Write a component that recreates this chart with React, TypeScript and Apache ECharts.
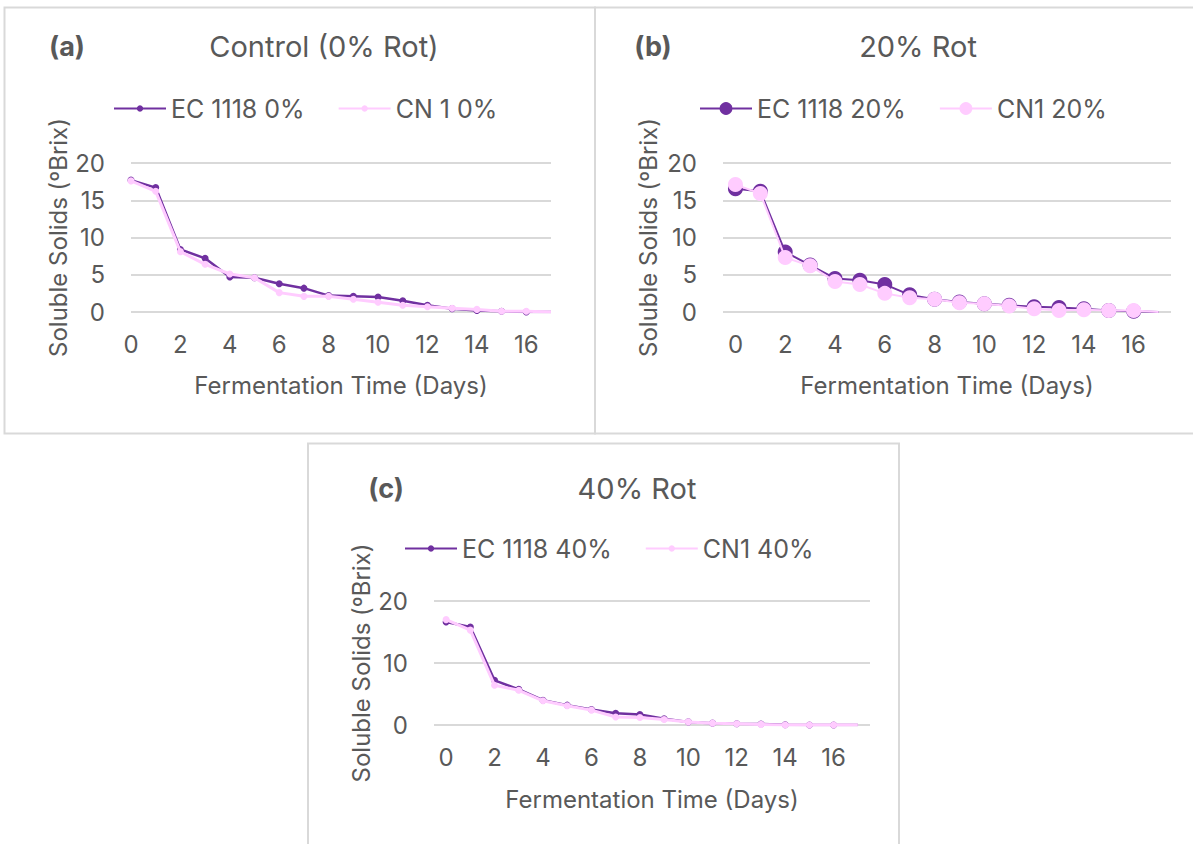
import React, { useEffect, useRef } from "react";
import * as echarts from "echarts";

const days = ["0","1","2","3","4","5","6","7","8","9","10","11","12","13","14","15","16","17"];
const yTicksAB = [0, 5, 10, 15, 20];
const yTicksC = [0, 10, 20];

const ecA = [17.7, 16.7, 8.4, 7.2, 4.7, 4.6, 3.8, 3.2, 2.2, 2.1, 2.0, 1.5, 0.9, 0.45, 0.2, 0.1, 0.0, 0.0];
const cnA = [17.6, 16.2, 8.1, 6.4, 5.1, 4.6, 2.6, 2.1, 2.1, 1.7, 1.3, 0.9, 0.7, 0.5, 0.35, 0.1, 0.1, 0.0];
const ecB = [16.55, 16.2, 8.05, 6.3, 4.5, 4.25, 3.7, 2.3, 1.7, 1.35, 1.1, 0.9, 0.7, 0.6, 0.45, 0.2, 0.1, 0.0];
const cnB = [17.1, 15.9, 7.3, 6.2, 4.1, 3.7, 2.5, 1.9, 1.7, 1.25, 1.1, 0.8, 0.45, 0.2, 0.3, 0.2, 0.2, 0.0];
const ecC = [16.6, 15.8, 7.2, 5.75, 4.0, 3.2, 2.5, 1.9, 1.7, 1.0, 0.5, 0.3, 0.2, 0.15, 0.05, 0.0, 0.0, 0.0];
const cnC = [17.0, 15.3, 6.4, 5.6, 3.9, 3.1, 2.4, 1.3, 1.2, 0.9, 0.5, 0.3, 0.2, 0.1, 0.0, 0.0, 0.0, 0.0];

const DARK = "#7030A0";
const PINK = "#FFCCFF";
const TXT = "#595959";
const FONT = "Inter, 'Noto Sans', sans-serif";

function pts(vals: number[]) {
  return vals.map((v, i) => (i === vals.length - 1 ? { value: v, symbol: "none" } : v));
}

export default function App() {
  const ref = useRef<HTMLDivElement>(null);
  useEffect(() => {
    if (!ref.current) return;
    const chart = echarts.init(ref.current, null, { renderer: "svg" });

    const grids = [
      { left: 131, top: 163, width: 420, height: 149 },
      { left: 723, top: 163, width: 448, height: 149 },
      { left: 434, top: 601, width: 436, height: 124 },
    ];
    const boundary = [false, true, true];
    const yMax = [yTicksAB[yTicksAB.length - 1], yTicksAB[yTicksAB.length - 1], yTicksC[yTicksC.length - 1]];
    const yInt = [yTicksAB[1] - yTicksAB[0], yTicksAB[1] - yTicksAB[0], yTicksC[1] - yTicksC[0]];
    const xNameGap = [61, 61, 62];
    const yNameGap = [61, 63, 61];

    const xAxis = grids.map((_, i) => ({
      type: "category",
      gridIndex: i,
      data: days,
      boundaryGap: boundary[i],
      axisLine: { show: false },
      axisTick: { show: false },
      axisLabel: { interval: 1, fontSize: 24, color: TXT, fontFamily: FONT, margin: 20 },
      name: "Fermentation Time (Days)",
      nameLocation: "middle",
      nameGap: xNameGap[i],
      nameTextStyle: { fontSize: 24, color: TXT, fontFamily: FONT },
    }));
    const yAxis = grids.map((_, i) => ({
      type: "value",
      gridIndex: i,
      min: 0,
      max: yMax[i],
      interval: yInt[i],
      axisLine: { show: false },
      axisTick: { show: false },
      splitLine: { lineStyle: { color: "#D9D9D9", width: 2 } },
      axisLabel: { fontSize: 24, color: TXT, fontFamily: FONT, margin: 26 },
      name: "Soluble Solids (ºBrix)",
      nameLocation: "middle",
      nameGap: yNameGap[i],
      nameRotate: 90,
      nameTextStyle: { fontSize: 24, color: TXT, fontFamily: FONT },
    }));

    const mk = (name: string, data: number[], idx: number, color: string, size: number, width: number, z: number) => ({
      type: "line",
      name,
      xAxisIndex: idx,
      yAxisIndex: idx,
      data: pts(data),
      symbol: "circle",
      symbolSize: size,
      showSymbol: true,
      z,
      itemStyle: { color },
      lineStyle: { color, width },
    });

    const series = [
      mk("EC 1118 0%", ecA, 0, DARK, 7, 2.5, 2),
      mk("CN 1 0%", cnA, 0, PINK, 7, 3, 3),
      mk("EC 1118 20%", ecB, 1, DARK, 15, 2, 2),
      mk("CN1 20%", cnB, 1, PINK, 15, 2, 3),
      mk("EC 1118 40%", ecC, 2, DARK, 7, 2.5, 2),
      mk("CN1 40%", cnC, 2, PINK, 7, 3, 3),
    ];

    const legendBase = {
      orient: "horizontal",
      itemGap: 33,
      itemWidth: 52,
      textStyle: { fontSize: 25, color: TXT, fontFamily: FONT },
      selectedMode: false,
    };

    const titleStyle = { fontSize: 29, color: TXT, fontFamily: FONT, fontWeight: "normal" };
    const tagStyle = { fontSize: 27, color: TXT, fontFamily: FONT, fontWeight: "bold" };

    chart.setOption({
      animation: false,
      backgroundColor: "#FFFFFF",
      grid: grids,
      xAxis,
      yAxis,
      series,
      title: [
        { text: "(a)", left: 62, top: 28, textAlign: "center", textStyle: tagStyle },
        { text: "Control (0% Rot)", left: 319, top: 27, textAlign: "center", textStyle: titleStyle },
        { text: "(b)", left: 648, top: 28, textAlign: "center", textStyle: tagStyle },
        { text: "20% Rot", left: 913, top: 27, textAlign: "center", textStyle: titleStyle },
        { text: "(c)", left: 381, top: 470, textAlign: "center", textStyle: tagStyle },
        { text: "40% Rot", left: 632, top: 469, textAlign: "center", textStyle: titleStyle },
      ],
      legend: [
        { ...legendBase, data: ["EC 1118 0%", "CN 1 0%"], left: 108, top: 91, itemHeight: 8 },
        { ...legendBase, data: ["EC 1118 20%", "CN1 20%"], left: 694, top: 91, itemHeight: 16 },
        { ...legendBase, data: ["EC 1118 40%", "CN1 40%"], left: 399, top: 531, itemHeight: 8 },
      ],
      graphic: [
        { type: "rect", shape: { x: 4.5, y: 7.5, width: 590.5, height: 426 }, style: { fill: "none", stroke: "#D9D9D9", lineWidth: 2 }, silent: true },
        { type: "rect", shape: { x: 595, y: 7.5, width: 600, height: 426 }, style: { fill: "none", stroke: "#D9D9D9", lineWidth: 2 }, silent: true },
        { type: "rect", shape: { x: 308, y: 443.5, width: 591, height: 410 }, style: { fill: "none", stroke: "#D9D9D9", lineWidth: 2 }, silent: true },
      ],
    });
    return () => chart.dispose();
  }, []);

  return (
    <div
      ref={ref}
      style={{ position: "fixed", left: 0, top: 0, width: 1193, height: 844, background: "#fff" }}
    />
  );
}
